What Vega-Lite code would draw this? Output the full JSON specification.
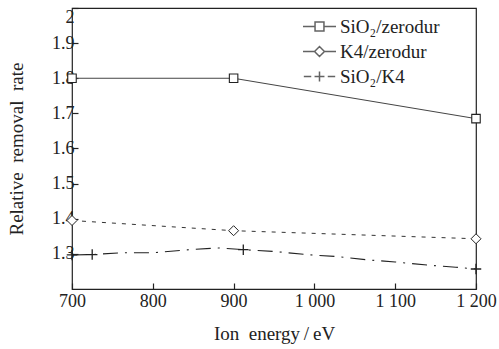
{
  "$schema": "https://vega.github.io/schema/vega-lite/v6.json",
  "width": 404,
  "height": 281,
  "autosize": {"type": "none"},
  "padding": {"left": 72, "top": 8, "right": 23, "bottom": 60},
  "background": "white",
  "config": {
    "view": {"stroke": "#222", "strokeWidth": 1.2},
    "font": "Liberation Serif"
  },
  "datasets": {
    "lines": [
      {"series": "SiO₂/zerodur", "energy": 700, "rate": 1.8},
      {"series": "SiO₂/zerodur", "energy": 900, "rate": 1.8},
      {"series": "SiO₂/zerodur", "energy": 1200, "rate": 1.685},
      {"series": "K4/zerodur", "energy": 700, "rate": 1.395},
      {"series": "K4/zerodur", "energy": 900, "rate": 1.366},
      {"series": "K4/zerodur", "energy": 1200, "rate": 1.343},
      {"series": "SiO₂/K4", "energy": 700, "rate": 1.297},
      {"series": "SiO₂/K4", "energy": 725, "rate": 1.298},
      {"series": "SiO₂/K4", "energy": 760, "rate": 1.303},
      {"series": "SiO₂/K4", "energy": 800, "rate": 1.303},
      {"series": "SiO₂/K4", "energy": 840, "rate": 1.311},
      {"series": "SiO₂/K4", "energy": 880, "rate": 1.317},
      {"series": "SiO₂/K4", "energy": 912, "rate": 1.312},
      {"series": "SiO₂/K4", "energy": 950, "rate": 1.307},
      {"series": "SiO₂/K4", "energy": 990, "rate": 1.298},
      {"series": "SiO₂/K4", "energy": 1030, "rate": 1.292},
      {"series": "SiO₂/K4", "energy": 1065, "rate": 1.283},
      {"series": "SiO₂/K4", "energy": 1100, "rate": 1.277},
      {"series": "SiO₂/K4", "energy": 1140, "rate": 1.268},
      {"series": "SiO₂/K4", "energy": 1175, "rate": 1.262},
      {"series": "SiO₂/K4", "energy": 1200, "rate": 1.257}
    ],
    "markers": [
      {"series": "SiO₂/zerodur", "energy": 700, "rate": 1.8},
      {"series": "SiO₂/zerodur", "energy": 900, "rate": 1.8},
      {"series": "SiO₂/zerodur", "energy": 1200, "rate": 1.685},
      {"series": "K4/zerodur", "energy": 700, "rate": 1.395},
      {"series": "K4/zerodur", "energy": 900, "rate": 1.366},
      {"series": "K4/zerodur", "energy": 1200, "rate": 1.343},
      {"series": "SiO₂/K4", "energy": 700, "rate": 1.297},
      {"series": "SiO₂/K4", "energy": 725, "rate": 1.298},
      {"series": "SiO₂/K4", "energy": 912, "rate": 1.312},
      {"series": "SiO₂/K4", "energy": 1200, "rate": 1.257}
    ]
  },
  "encoding": {
    "x": {
      "field": "energy", "type": "quantitative",
      "scale": {"domain": [700, 1200], "nice": false, "zero": false},
      "axis": {
        "title": "Ion\u00a0\u00a0energy\u2009/\u2009eV",
        "values": [700, 800, 900, 1000, 1100, 1200],
        "labelExpr": "replace(format(datum.value, ','), ',', ' ')",
        "domain": false, "grid": false,
        "tickSize": -6, "tickColor": "#222", "tickWidth": 1.2,
        "labelPadding": 9, "labelFontSize": 18, "labelColor": "#222",
        "labelFont": "Liberation Serif", "labelFlush": false,
        "titleFont": "Liberation Serif", "titleFontSize": 19, "titleFontWeight": "normal",
        "titleColor": "#222", "titlePadding": 14
      }
    },
    "y": {
      "field": "rate", "type": "quantitative",
      "scale": {"domain": [1.2, 2], "nice": false, "zero": false},
      "axis": {
        "title": "Relative\u00a0\u00a0removal\u00a0\u00a0rate",
        "values": [1.3, 1.4, 1.5, 1.6, 1.7, 1.8, 1.9, 2.0],
        "labelExpr": "datum.value > 1.95 ? '2' : format(datum.value, '.1f')",
        "labelFlush": true,
        "domain": false, "grid": false,
        "tickSize": -6, "tickColor": "#222", "tickWidth": 1.2,
        "labelPadding": 4, "labelFontSize": 18, "labelColor": "#222",
        "labelFont": "Liberation Serif",
        "titleFont": "Liberation Serif", "titleFontSize": 19, "titleFontWeight": "normal",
        "titleColor": "#222", "titlePadding": 25
      }
    }
  },
  "layer": [
    {
      "data": {"name": "lines"},
      "transform": [{"filter": "datum.series === 'SiO₂/zerodur'"}],
      "mark": {"type": "line", "stroke": "#444", "strokeWidth": 1, "clip": false}
    },
    {
      "data": {"name": "lines"},
      "transform": [{"filter": "datum.series === 'K4/zerodur'"}],
      "mark": {"type": "line", "stroke": "#333", "strokeWidth": 1, "strokeDash": [4, 6], "clip": false}
    },
    {
      "data": {"name": "lines"},
      "transform": [{"filter": "datum.series === 'SiO₂/K4'"}],
      "mark": {"type": "line", "stroke": "#222", "strokeWidth": 1.1, "strokeDash": [15, 7, 2, 7], "clip": false}
    },
    {
      "data": {"name": "markers"},
      "transform": [{"filter": "datum.series === 'SiO₂/zerodur'"}],
      "mark": {"type": "point", "shape": "square", "size": 72, "filled": true, "fill": "white", "stroke": "#222", "strokeWidth": 1.1, "opacity": 1, "clip": false}
    },
    {
      "data": {"name": "markers"},
      "transform": [{"filter": "datum.series === 'K4/zerodur'"}],
      "mark": {"type": "point", "shape": "M0,-1L1,0L0,1L-1,0Z", "size": 100, "filled": true, "fill": "white", "stroke": "#222", "strokeWidth": 1, "opacity": 1, "clip": false}
    },
    {
      "data": {"name": "markers"},
      "transform": [{"filter": "datum.series === 'SiO₂/K4'"}],
      "mark": {"type": "point", "shape": "M-1,0H1M0,-1V1", "size": 110, "filled": false, "stroke": "#222", "strokeWidth": 1.3, "opacity": 1, "clip": false}
    },
    {
      "data": {"name": "markers"},
      "transform": [{"filter": "datum.energy < 0"}],
      "mark": {"type": "point", "filled": false, "stroke": "#222", "strokeWidth": 1},
      "encoding": {
        "shape": {
          "field": "series", "type": "nominal",
          "scale": {
            "domain": ["SiO₂/zerodur", "K4/zerodur", "SiO₂/K4"],
            "range": [
              "M-1,0H-0.27M-0.27,-0.27H0.27V0.27H-0.27ZM0.27,0H1",
              "M-1,0H-0.3M-0.3,0L0,-0.3L0.3,0L0,0.3ZM0.3,0H1",
              "M-0.95,0H-0.5M-0.3,0H0.3M0,-0.3V0.3M0.5,0H0.95"
            ]
          },
          "legend": {
            "orient": "none", "legendX": 230, "legendY": 6,
            "title": null, "padding": 0,
            "symbolSize": 1089,
            "labelFont": "Liberation Serif", "labelFontSize": 19, "labelColor": "#222",
            "labelOffset": 3, "clipHeight": 25, "rowPadding": 0,
            "labelLimit": 200,
            "encode": {
              "symbols": {
                "update": {
                  "stroke": {"value": "#222"},
                  "fill": {"value": "white"},
                  "strokeWidth": {"value": 1},
                  "opacity": {"value": 1},
                  "strokeOpacity": {"value": 1},
                  "fillOpacity": {"value": 1}
                }
              }
            }
          }
        }
      }
    }
  ]
}
